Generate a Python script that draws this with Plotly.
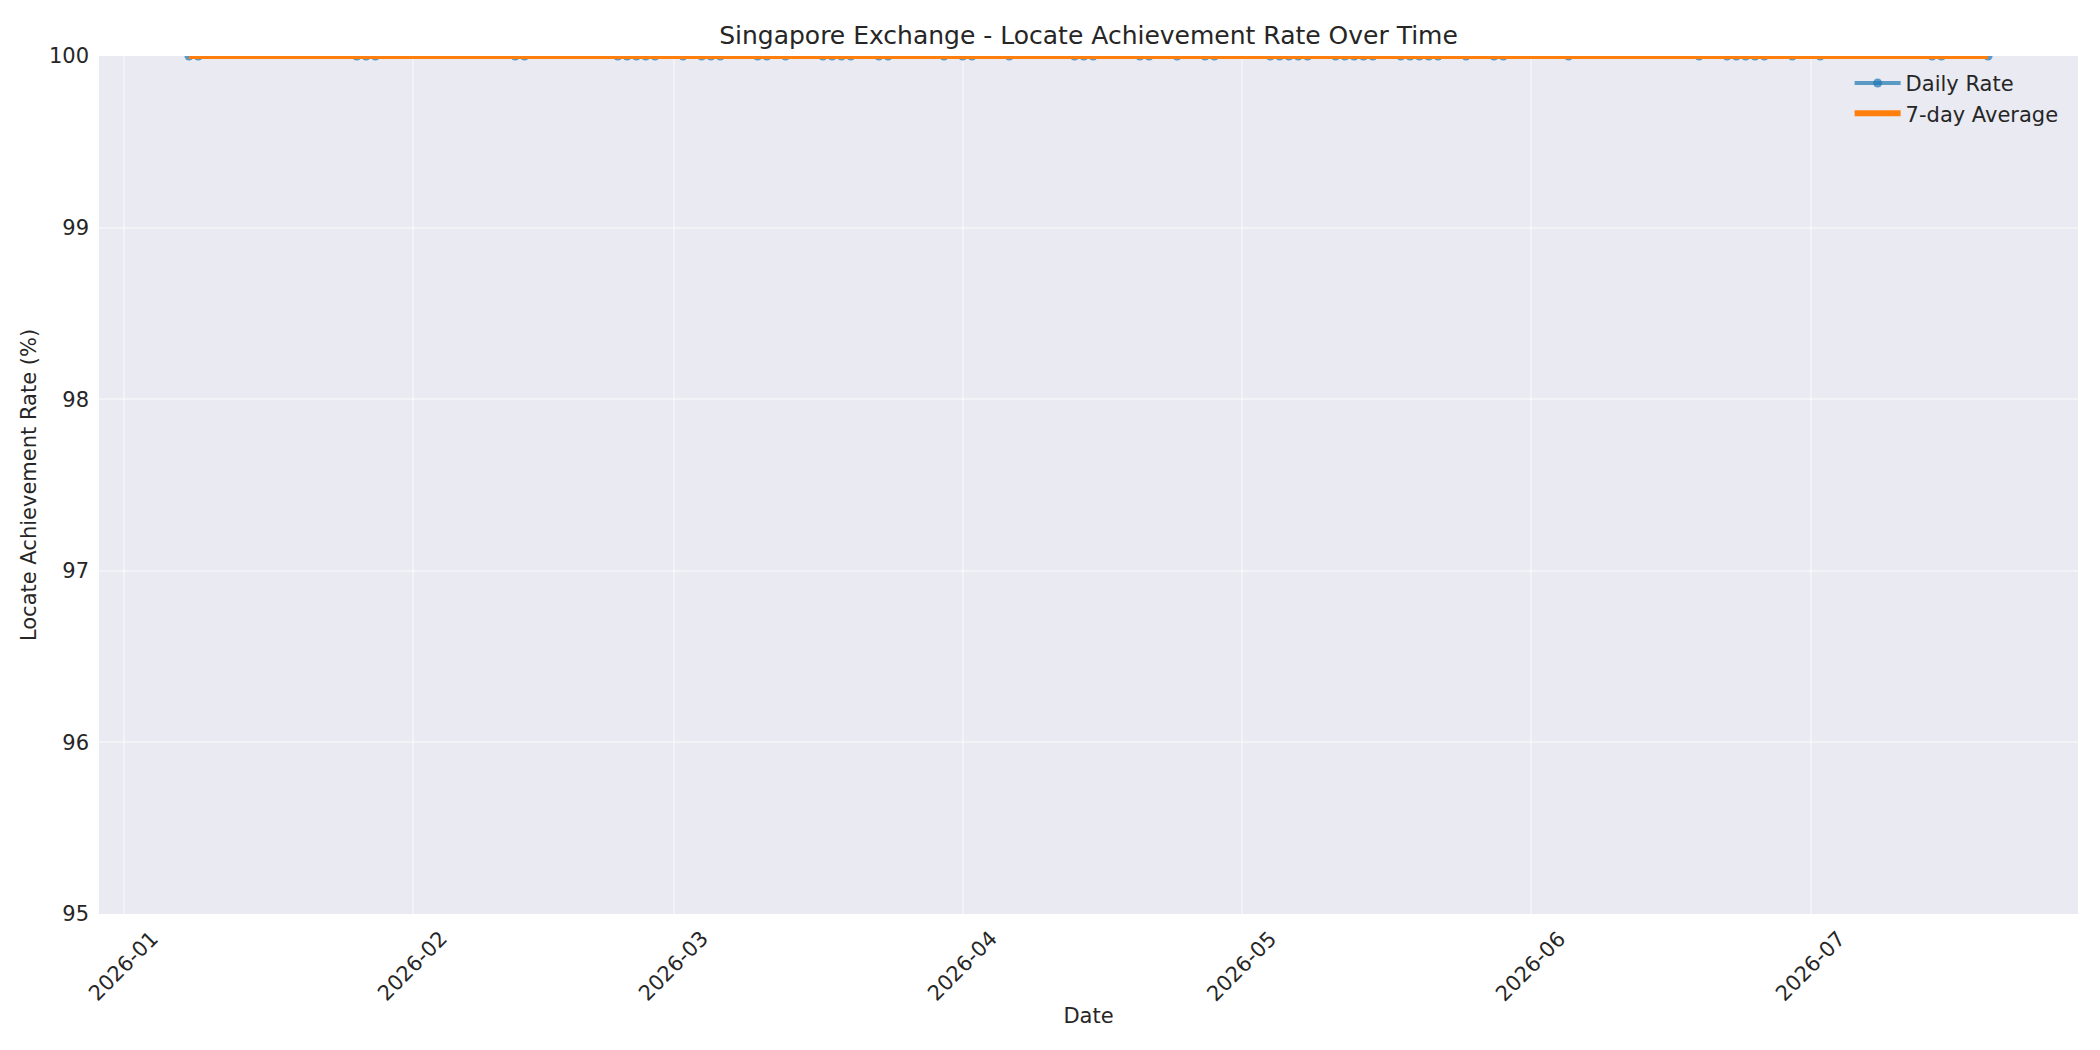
import plotly.graph_objects as go

# ---- data ----
dates = [
    "2026-01-08", "2026-01-09", "2026-01-26", "2026-01-27", "2026-01-28",
    "2026-02-12", "2026-02-13", "2026-02-23", "2026-02-24", "2026-02-25", "2026-02-26", "2026-02-27",
    "2026-03-02", "2026-03-04", "2026-03-05", "2026-03-06", "2026-03-10", "2026-03-11", "2026-03-13",
    "2026-03-17", "2026-03-18", "2026-03-19", "2026-03-20", "2026-03-23", "2026-03-24", "2026-03-30",
    "2026-04-01", "2026-04-02", "2026-04-06", "2026-04-13", "2026-04-14", "2026-04-15",
    "2026-04-20", "2026-04-21", "2026-04-24", "2026-04-27", "2026-04-28",
    "2026-05-04", "2026-05-05", "2026-05-06", "2026-05-07", "2026-05-08",
    "2026-05-11", "2026-05-12", "2026-05-13", "2026-05-14", "2026-05-15",
    "2026-05-18", "2026-05-19", "2026-05-20", "2026-05-21", "2026-05-22",
    "2026-05-25", "2026-05-28", "2026-05-29",
    "2026-06-05", "2026-06-19", "2026-06-22", "2026-06-23", "2026-06-24", "2026-06-25", "2026-06-26",
    "2026-06-29",
    "2026-07-02", "2026-07-14", "2026-07-15", "2026-07-20",
]
daily_rate = [
    100.0, 100.0, 100.0, 100.0, 100.0,
    100.0, 100.0, 100.0, 100.0, 100.0, 100.0, 100.0,
    100.0, 100.0, 100.0, 100.0, 100.0, 100.0, 100.0,
    100.0, 100.0, 100.0, 100.0, 100.0, 100.0, 100.0,
    100.0, 100.0, 100.0, 100.0, 100.0, 100.0,
    100.0, 100.0, 100.0, 100.0, 100.0,
    100.0, 100.0, 100.0, 100.0, 100.0,
    100.0, 100.0, 100.0, 100.0, 100.0,
    100.0, 100.0, 100.0, 100.0, 100.0,
    100.0, 100.0, 100.0,
    100.0, 100.0, 100.0, 100.0, 100.0, 100.0, 100.0,
    100.0,
    100.0, 100.0, 100.0, 100.0,
]
avg_7day = [
    100.0, 100.0, 100.0, 100.0, 100.0,
    100.0, 100.0, 100.0, 100.0, 100.0, 100.0, 100.0,
    100.0, 100.0, 100.0, 100.0, 100.0, 100.0, 100.0,
    100.0, 100.0, 100.0, 100.0, 100.0, 100.0, 100.0,
    100.0, 100.0, 100.0, 100.0, 100.0, 100.0,
    100.0, 100.0, 100.0, 100.0, 100.0,
    100.0, 100.0, 100.0, 100.0, 100.0,
    100.0, 100.0, 100.0, 100.0, 100.0,
    100.0, 100.0, 100.0, 100.0, 100.0,
    100.0, 100.0, 100.0,
    100.0, 100.0, 100.0, 100.0, 100.0, 100.0, 100.0,
    100.0,
    100.0, 100.0, 100.0, 100.0,
]
x_tick_vals = ["2026-01-01", "2026-02-01", "2026-03-01", "2026-04-01",
               "2026-05-01", "2026-06-01", "2026-07-01"]
x_tick_text = ["2026-01", "2026-02", "2026-03", "2026-04",
               "2026-05", "2026-06", "2026-07"]
y_tick_vals = [95, 96, 97, 98, 99, 100]

title_text = "Singapore Exchange - Locate Achievement Rate Over Time"
x_label = "Date"
y_label = "Locate Achievement Rate (%)"

# ---- styling ----
FONT = "DejaVu Sans"
TXT = "#262626"
BG = "#EAEAF2"
GRID = "rgba(255,255,255,0.4)"
BLUE = "rgba(31,119,180,0.7)"
ORANGE = "#ff7f0e"

fig = go.Figure()
fig.add_trace(go.Scatter(
    x=dates, y=daily_rate, mode="lines+markers", name="Daily Rate",
    line=dict(color=BLUE, width=4),
    marker=dict(color=BLUE, size=9),
))
fig.add_trace(go.Scatter(
    x=dates, y=avg_7day, mode="lines", name="7-day Average",
    line=dict(color=ORANGE, width=6),
))

# rotated, centred x tick labels (matplotlib style)
for tv, tt in zip(x_tick_vals, x_tick_text):
    fig.add_annotation(
        x=tv, y=0, xref="x", yref="paper", text=tt, showarrow=False,
        textangle=-45, xanchor="center", yanchor="top", yshift=-10,
        font=dict(family=FONT, size=21, color=TXT),
    )

fig.update_layout(
    width=2100, height=1050,
    margin=dict(l=91, r=30, t=48, b=144, autoexpand=False),
    paper_bgcolor="white", plot_bgcolor=BG,
    font=dict(family=FONT, size=21, color=TXT),
    title=dict(text=title_text, x=0.5, xref="paper", xanchor="center",
               y=1 - 27 / 1050, yref="container", yanchor="middle",
               font=dict(family=FONT, size=25, color=TXT)),
    showlegend=True,
    legend=dict(x=0.8846, xanchor="left", y=0.992, yanchor="top",
                bgcolor="rgba(0,0,0,0)", borderwidth=0, itemwidth=46,
                font=dict(family=FONT, size=21, color=TXT)),
    xaxis=dict(
        type="date", range=["2025-12-29 08:24", "2026-07-29 15:36"],
        tickvals=x_tick_vals, ticktext=x_tick_text, showticklabels=False,
        showgrid=True, gridcolor=GRID, gridwidth=2, zeroline=False,
        showline=False, ticks="",
        title=dict(text=x_label, standoff=94, font=dict(family=FONT, size=21, color=TXT)),
    ),
    yaxis=dict(
        range=[95, 100], tickvals=y_tick_vals,
        showgrid=True, gridcolor=GRID, gridwidth=2, zeroline=False,
        showline=False, ticks="", ticklabelstandoff=9,
        tickfont=dict(family=FONT, size=21, color=TXT),
        title=dict(text=y_label, standoff=6, font=dict(family=FONT, size=21, color=TXT)),
    ),
)

fig.write_html("out.html")
